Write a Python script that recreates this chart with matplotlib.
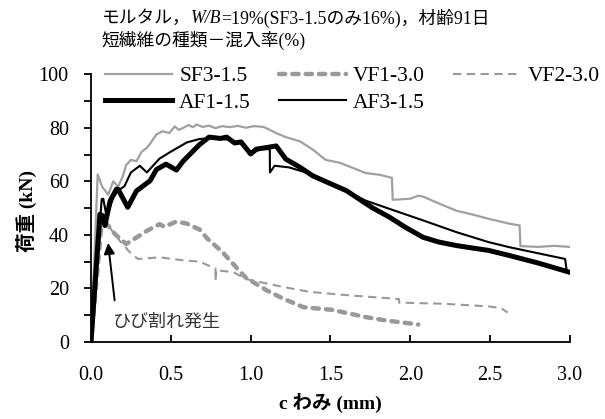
import matplotlib
matplotlib.use("Agg")
import matplotlib.pyplot as plt

plt.rcParams['font.family'] = ['Liberation Serif', 'Noto Sans CJK JP']

# SF3-1.5 (gray solid)
sf3_x = [0, 0.042, 0.07, 0.108, 0.14, 0.17, 0.2, 0.22, 0.25, 0.285, 0.317, 0.35, 0.37, 0.41,
         0.45, 0.49, 0.525, 0.55, 0.58, 0.61, 0.64, 0.66, 0.7, 0.74, 0.78, 0.82, 0.87, 0.92,
         0.97, 1.02, 1.08, 1.12, 1.16, 1.22, 1.31, 1.39, 1.47, 1.56, 1.64, 1.72, 1.81, 1.885,
         1.89, 1.95, 2.0, 2.05, 2.08, 2.18, 2.29, 2.39, 2.49, 2.62, 2.685, 2.69, 2.8, 2.9, 3.0]
sf3_y = [0, 62.6, 58, 55, 60, 58, 62, 66, 68, 67.5, 71, 72.5, 74, 77.5,
         78.7, 78, 80.5, 79.2, 80, 81, 80.2, 81.2, 80.3, 80.8, 79.8, 80.6, 80.2, 80.7,
         80, 80.6, 80.3, 79.2, 78, 76.5, 74.9, 71.8, 68, 66.9, 65, 63.1, 62.4, 61.3,
         53.1, 53.3, 53.5, 54.6, 54.3, 51.7, 49, 47.6, 46, 44.2, 43.5, 35.8, 35.5, 35.9, 35.5]

# VF1-3.0 (gray thick dashed)
vf1_x = [0, 0.07, 0.1, 0.15, 0.22, 0.285, 0.35, 0.43, 0.46, 0.535, 0.6, 0.68, 0.73, 0.82,
         0.89, 0.93, 0.97, 1.1, 1.2, 1.33, 1.51, 1.72, 1.85, 2.03, 2.05]
vf1_y = [0, 47, 44, 40.3, 36.6, 39, 41.5, 44, 43, 45, 44.2, 42, 38.5, 33.8,
         29.2, 26.5, 24, 19.3, 16.3, 13, 12, 9.3, 8, 6.7, 6.5]

# VF2-3.0 (gray thin dashed)
vf2_x = [0, 0.07, 0.1, 0.18, 0.254, 0.295, 0.43, 0.575, 0.68, 0.78, 0.78, 0.785, 0.89,
         0.97, 1.2, 1.37, 1.6, 1.87, 1.93, 1.93, 2.2, 2.49, 2.57, 2.61]
vf2_y = [0, 47, 44, 37.8, 32.8, 31, 31.6, 30.5, 30, 27.4, 22.8, 26.8, 26.1,
         23.5, 20.6, 18.7, 17.5, 16.3, 16, 14.7, 14.3, 13.3, 12.6, 11]

# AF1-1.5 (black thick)
af1_x = [0, 0.056, 0.077, 0.087, 0.12, 0.16, 0.17, 0.23, 0.285, 0.37, 0.41, 0.47, 0.535,
         0.577, 0.64, 0.68, 0.74, 0.81, 0.85, 0.9, 0.94, 1.0, 1.035, 1.1, 1.16, 1.22, 1.31,
         1.39, 1.6, 1.76, 1.87, 1.97, 2.08, 2.18, 2.29, 2.41, 2.49, 2.62, 2.8, 3.0]
af1_y = [0, 47.7, 47, 43.5, 52.7, 57.1, 57, 50.3, 56.4, 60.2, 64.4, 66.4, 64.2,
         67.5, 71.3, 73.7, 76.5, 76, 76.5, 74.3, 74.7, 70.2, 72, 72.6, 73.2, 68.3, 65.2,
         62, 56.5, 50.2, 46.6, 42.8, 39.1, 37.3, 36, 34.9, 34.2, 32.3, 29.5, 26]

# AF3-1.5 (black thin)
af3_x = [0, 0.067, 0.077, 0.098, 0.14, 0.17, 0.21, 0.25, 0.306, 0.35, 0.43, 0.49, 0.6,
         0.68, 0.76, 0.85, 0.93, 1.0, 1.06, 1.12, 1.121, 1.15, 1.24, 1.39, 1.72, 1.87,
         2.08, 2.29, 2.49, 2.62, 2.97, 2.98]
af3_y = [0, 53.3, 53.5, 46.6, 54, 56.5, 58.2, 63.3, 65.8, 63.3, 68.5, 70.7, 74.5,
         75.8, 76.1, 75.6, 74.5, 70.2, 72, 72, 63.3, 65.8, 65.2, 62.5, 52.8, 49.7,
         45.4, 41, 37.3, 35.4, 31, 26.5]

x_ticks = [0.0, 0.5, 1.0, 1.5, 2.0, 2.5, 3.0]
y_ticks = [0, 20, 40, 60, 80, 100]

fig = plt.figure(figsize=(6.05, 4.19), dpi=100)
ax = fig.add_axes([0.1504, 0.1838, 0.7916, 0.6392])

gray = '#a0a0a0'
l_sf3, = ax.plot(sf3_x, sf3_y, color=gray, lw=1.6, label='SF3-1.5')
l_vf1, = ax.plot(vf1_x, vf1_y, color='#999999', lw=3.2, dashes=(1.4, 1.6),
                 dash_capstyle='round', label='VF1-3.0')
l_vf2, = ax.plot(vf2_x, vf2_y, color='#999999', lw=1.5, dashes=(4, 2.6), label='VF2-3.0')
l_af1, = ax.plot(af1_x, af1_y, color='black', lw=3.6, label='AF1-1.5')
l_af3, = ax.plot(af3_x, af3_y, color='black', lw=1.5, label='AF3-1.5')

ax.set_xlim(0, 3.0)
ax.set_ylim(0, 100)
ax.set_xticks(x_ticks)
ax.set_xticklabels([f'{v:.1f}' for v in x_ticks])
ax.set_yticks(y_ticks)
ax.set_yticks([10, 30, 50, 70, 90], minor=True)

for side in ['top', 'right']:
    ax.spines[side].set_visible(False)
for side in ['left', 'bottom']:
    ax.spines[side].set_linewidth(1.3)

ax.tick_params(axis='x', direction='in', length=5, width=1.3, pad=17, labelsize=14.5)
ax.tick_params(axis='y', which='major', direction='out', length=5, width=1.3, pad=11, labelsize=14.5)
ax.tick_params(axis='y', which='minor', direction='out', length=5, width=1.3)

ax.set_xlabel('c わみ (mm)', fontsize=14, fontweight='bold', labelpad=6)
ax.set_ylabel('荷重 (kN)', fontsize=14, fontweight='bold')
ax.yaxis.set_label_coords(-0.112, 0.49)

handles = [l_sf3, l_af1, l_vf1, l_af3, l_vf2]
ax.legend(handles=handles, ncol=3, loc='upper left', bbox_to_anchor=(0.029, 1.03),
          frameon=False, fontsize=15.5, handlelength=3.1, handletextpad=0.35,
          columnspacing=1.3, labelspacing=0.3, borderpad=0, borderaxespad=0)

# annotation for first crack
ax.annotate('', xy=(0.105, 38), xytext=(0.15, 14.5),
            arrowprops=dict(arrowstyle='-|>', color='black', lw=1.4, mutation_scale=16))
ax.text(0.13, 7.5, 'ひび割れ発生', fontsize=13, color='#333333', va='center', ha='left')

# title lines (W/B in italics)
fs_t = 12.8
y1 = 0.955
x0 = 0.168
fig.canvas.draw()
r = fig.canvas.get_renderer()
t = fig.text(x0, y1, 'モルタル，', fontsize=fs_t, va='center')
bb = t.get_window_extent(r)
t2 = fig.text(bb.x1 / fig.bbox.width, y1, 'W/B', fontsize=fs_t, style='italic', va='center')
bb2 = t2.get_window_extent(r)
fig.text(bb2.x1 / fig.bbox.width, y1, '=19%(SF3-1.5のみ16%)，材齢91日', fontsize=fs_t, va='center')
fig.text(x0, 0.903, '短繊維の種類－混入率(%)', fontsize=fs_t, va='center')

fig.savefig('out.png', dpi=100)
